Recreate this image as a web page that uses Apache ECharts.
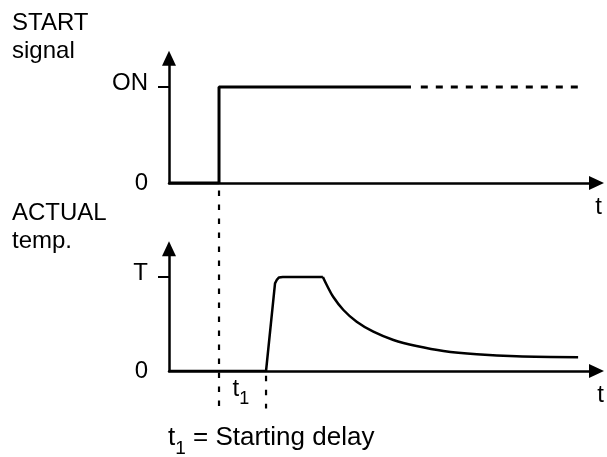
<!DOCTYPE html>
<html><head><meta charset="utf-8">
<script src="https://cdn.jsdelivr.net/npm/echarts@6/dist/echarts.min.js"></script>
<style>html,body{margin:0;padding:0;background:#fff}#c{width:607px;height:457px}</style>
</head><body><div id="c"></div><script>
const FONT = "'Liberation Sans', Arial, sans-serif";
// time axis in arbitrary units 0..100
const signalSolidX = [0, 11.7, 11.7, 56.6];
const signalSolidY = [0, 0, 1, 1];
const signalDottedX = [58.9, 95.7];
const signalDottedY = [1, 1];
const tempRiseX = [0, 22.7, 24.8, 25.26, 25.73, 26.6, 36.0];
const tempRiseY = [0, 0, 0.933, 0.973, 0.995, 1, 1];
const tempDecayX = [36.0, 36.9, 38.4, 40.8, 43.9, 47.8, 52.5, 57.9, 64.2, 72.0, 81.3, 95.7];
const tempDecayY = [1, 0.915, 0.79, 0.649, 0.524, 0.418, 0.33, 0.266, 0.213, 0.178, 0.156, 0.146];
const startMarkX = 11.7;
const delayEndX = 22.7;
const topTickValues = [0, 1];
const topTickLabels = ['0', 'ON'];
const botTickValues = [0, 1];
const botTickLabels = ['0', 'T'];
const tickMarks = [1];
const axisName = 't';

const zip = (xs, ys) => xs.map((x, i) => [x, ys[i]]);
const black = '#000';

function xAx(grid, gap) {
  return {
    gridIndex: grid, type: 'value', min: 0, max: 100,
    axisLine: { show: true, symbol: ['none', 'triangle'], symbolSize: [14, 15], lineStyle: { color: black, width: 2.5 } },
    axisTick: { show: false }, axisLabel: { show: false }, splitLine: { show: false },
    name: axisName, nameLocation: 'end', nameGap: gap,
    nameTextStyle: { fontSize: 24, fontFamily: FONT, color: black, align: 'center', verticalAlign: 'top', padding: [12, 0, 0, 0] }
  };
}
function yAx(grid, vals, labels) {
  return {
    gridIndex: grid, type: 'value', min: 0, max: 1.3,
    axisLine: { show: true, onZero: false, symbol: ['none', 'triangle'], symbolSize: [14, 15], lineStyle: { color: black, width: 2.5 } },
    axisTick: { show: true, customValues: tickMarks, length: 10, lineStyle: { color: black, width: 2 } },
    axisLabel: {
      show: true, customValues: vals, margin: 21, fontSize: 24, fontFamily: FONT, color: black,
      formatter: v => { const i = vals.indexOf(v); const s = labels[i]; return i > 0 ? '{r|' + s + '}' : s; },
      rich: { r: { fontSize: 24, fontFamily: FONT, color: black, padding: [0, 0, 8, 0] } }
    },
    splitLine: { show: false }
  };
}
function yAxInner(grid) {
  return {
    gridIndex: grid, type: 'value', min: 0, max: 1.3,
    axisLine: { show: false },
    axisTick: { show: true, inside: true, customValues: tickMarks, length: 11, lineStyle: { color: black, width: 2 } },
    axisLabel: { show: false }, splitLine: { show: false }
  };
}
const txt = { fontSize: 24, fontWeight: 'normal', fontFamily: FONT, color: black };
const sub = {
  a: { fontSize: 24, lineHeight: 24, fontFamily: FONT, color: black, verticalAlign: 'bottom', padding: [0, 0, 7, 0] },
  b: { fontSize: 18, lineHeight: 18, fontFamily: FONT, color: black, verticalAlign: 'bottom' }
};
const subBig = {
  a: { fontSize: 26, lineHeight: 26, fontFamily: FONT, color: black, verticalAlign: 'bottom', padding: [0, 0, 7, 0] },
  b: { fontSize: 19, lineHeight: 19, fontFamily: FONT, color: black, verticalAlign: 'bottom' }
};
const lineS = (name, data, xi, yi, style, extra) => Object.assign({
  name, type: 'line', xAxisIndex: xi, yAxisIndex: yi, data, symbol: 'none', silent: true,
  lineStyle: Object.assign({ color: black }, style)
}, extra || {});

const option = {
  animation: false,
  backgroundColor: '#fff',
  title: [
    { text: 'START\nsignal', left: 12, top: 9.6, padding: 0, textStyle: Object.assign({ lineHeight: 28 }, txt) },
    { text: 'ACTUAL\ntemp.', left: 12, top: 199.6, padding: 0, textStyle: Object.assign({ lineHeight: 28 }, txt) },
    { text: '{a|t}{b|1}', left: 232.5, top: 384, padding: 0, textStyle: Object.assign({ rich: sub }, txt) },
    { text: '{a|t}{b|1}{a| = Starting delay}', left: 168, top: 432, padding: 0, textStyle: Object.assign({ rich: subBig }, txt) }
  ],
  grid: [
    { left: 169, right: 10.5, top: 58.2, height: 124.8, outerBoundsMode: 'none', containLabel: false },
    { left: 169, right: 10.5, top: 248.8, height: 122.2, outerBoundsMode: 'none', containLabel: false }
  ],
  xAxis: [xAx(0, 2), xAx(1, 4)],
  yAxis: [yAx(0, topTickValues, topTickLabels), yAxInner(0), yAx(1, botTickValues, botTickLabels), yAxInner(1)],
  series: [
    lineS('START signal', zip(signalSolidX, signalSolidY), 0, 0, { width: 3 }),
    lineS('START signal (continues)', zip(signalDottedX, signalDottedY), 0, 0, { width: 3, type: [7, 8] }),
    lineS('ACTUAL temp. rise', zip(tempRiseX, tempRiseY), 1, 2, { width: 2.5 }),
    lineS('ACTUAL temp. decay', zip(tempDecayX, tempDecayY), 1, 2, { width: 2.5 }, { smooth: 0.35 }),
    lineS('start marker', [[startMarkX, 1.92], [startMarkX, -0.4]], 1, 2, { width: 2.2, type: [5.5, 8.5] }, { clip: false }),
    lineS('delay end marker', [[delayEndX, -0.05], [delayEndX, -0.4]], 1, 2, { width: 2.2, type: [5.5, 8.5] }, { clip: false })
  ]
};
const chart = echarts.init(document.getElementById('c'), null, { renderer: 'canvas' });
chart.setOption(option);
</script></body></html>
